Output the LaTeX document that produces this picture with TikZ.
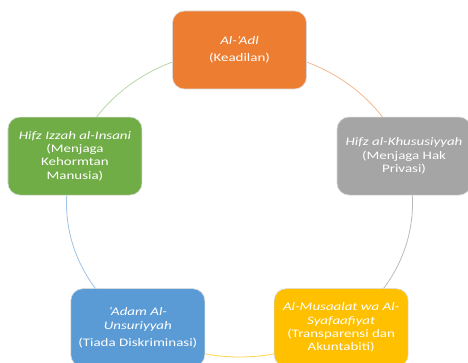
\documentclass[tikz,border=0pt]{standalone}
\usepackage{fontspec}
\setmainfont{Carlito}[FakeStretch=1.3]
\usetikzlibrary{backgrounds}
\definecolor{adlorange}{HTML}{ED7D31}
\definecolor{privgray}{HTML}{A5A5A5}
\definecolor{transyellow}{HTML}{FFC000}
\definecolor{diskblue}{HTML}{5B9BD5}
\definecolor{insgreen}{HTML}{70AD47}
\tikzset{box/.style={draw=black!15, line width=0.6pt, rounded corners=12pt,
  minimum width=134pt, minimum height=78pt, text=white, align=center,
  font=\fontsize{11.5}{13.3}\selectfont}}
\tikzset{ring/.style={line width=0.8pt}}

\begin{document}
\begin{tikzpicture}[x=1pt,y=1pt]

\newcommand\RX{173pt}
\newcommand\RY{153.5pt}

\clip(-239.5,-159.5) rectangle (228.5,203.5); %% frame

\node[box, fill=adlorange] (adl) at (90:173pt and 153.5pt)
{\emph{Al-'Adl}\\[4pt](Keadilan)};
\node[box, fill=privgray] (khusus) at (18:173pt and 153.5pt)
{\emph{Hifz al-Khususiyyah}\\(Menjaga Hak\\Privasi)};
\node[box, fill=transyellow] (musaalat) at (-54:173pt and 153.5pt)
{\emph{Al-Musaalat wa Al-}\\\emph{Syafaafiyat}\\(Transparensi dan\\Akuntabiti)};
\node[box, fill=diskblue] (adam) at (234:173pt and 153.5pt)
{\emph{‘Adam Al-}\\\emph{Unsuriyyah}\\[4pt](Tiada Diskriminasi)};
\node[box, fill=insgreen] (izzah) at (162:173pt and 153.5pt)
{\emph{Hifz Izzah al-Insani}\\(Menjaga\\Kehormtan\\Manusia)};

\begin{scope}[on background layer]
\draw[ring, adlorange!55](adl.center)
arc[start angle=90, end angle=18, x radius=\RX, y radius=\RY];
\draw[ring, privgray!75](khusus.center)
arc[start angle=18, end angle=-54, x radius=\RX, y radius=\RY];
\draw[ring, transyellow!70](musaalat.center)
arc[start angle=-54, end angle=-126, x radius=\RX, y radius=\RY];
\draw[ring, diskblue!60](adam.center)
arc[start angle=234, end angle=162, x radius=\RX, y radius=\RY];
\draw[ring, insgreen!50](izzah.center)
arc[start angle=162, end angle=90, x radius=\RX, y radius=\RY];
\end{scope}

\end{tikzpicture}
\end{document}
